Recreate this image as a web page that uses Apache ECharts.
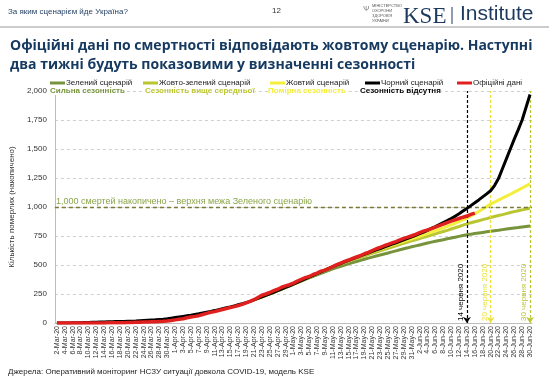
<!DOCTYPE html>
<html><head><meta charset="utf-8">
<script src="https://cdn.jsdelivr.net/npm/echarts@6/dist/echarts.min.js"></script>
<style>html,body{margin:0;padding:0;background:#fff;}#c{width:549px;height:380px;}</style>
</head><body><div id="c"></div>
<script>
const categories = [
'2-Mar-20','3-Mar-20','4-Mar-20','5-Mar-20','6-Mar-20','7-Mar-20','8-Mar-20','9-Mar-20','10-Mar-20','11-Mar-20',
'12-Mar-20','13-Mar-20','14-Mar-20','15-Mar-20','16-Mar-20','17-Mar-20','18-Mar-20','19-Mar-20','20-Mar-20','21-Mar-20',
'22-Mar-20','23-Mar-20','24-Mar-20','25-Mar-20','26-Mar-20','27-Mar-20','28-Mar-20','29-Mar-20','30-Mar-20','31-Mar-20',
'1-Apr-20','2-Apr-20','3-Apr-20','4-Apr-20','5-Apr-20','6-Apr-20','7-Apr-20','8-Apr-20','9-Apr-20','10-Apr-20',
'11-Apr-20','12-Apr-20','13-Apr-20','14-Apr-20','15-Apr-20','16-Apr-20','17-Apr-20','18-Apr-20','19-Apr-20','20-Apr-20',
'21-Apr-20','22-Apr-20','23-Apr-20','24-Apr-20','25-Apr-20','26-Apr-20','27-Apr-20','28-Apr-20','29-Apr-20','30-Apr-20',
'1-May-20','2-May-20','3-May-20','4-May-20','5-May-20','6-May-20','7-May-20','8-May-20','9-May-20','10-May-20',
'11-May-20','12-May-20','13-May-20','14-May-20','15-May-20','16-May-20','17-May-20','18-May-20','19-May-20','20-May-20',
'21-May-20','22-May-20','23-May-20','24-May-20','25-May-20','26-May-20','27-May-20','28-May-20','29-May-20','30-May-20',
'31-May-20','1-Jun-20','2-Jun-20','3-Jun-20','4-Jun-20','5-Jun-20','6-Jun-20','7-Jun-20','8-Jun-20','9-Jun-20',
'10-Jun-20','11-Jun-20','12-Jun-20','13-Jun-20','14-Jun-20','15-Jun-20','16-Jun-20','17-Jun-20','18-Jun-20','19-Jun-20',
'20-Jun-20','21-Jun-20','22-Jun-20','23-Jun-20','24-Jun-20','25-Jun-20','26-Jun-20','27-Jun-20','28-Jun-20','29-Jun-20',
'30-Jun-20'];

const yTicks = [0, 250, 500, 750, 1000, 1250, 1500, 1750, 2000];

// Official data (from 2-Mar-20)
const official = [
0,0,0,0,0,0,0,0,0,0,
0,1,1,2,2,3,3,3,5,5,
6,7,8,9,10,11,13,15,18,22,
27,32,37,45,52,57,63,73,83,93,
98,108,116,125,133,141,151,161,174,187,
201,220,239,250,263,279,291,308,320,330,
344,361,376,391,401,418,430,447,456,470,
486,503,517,531,543,557,569,581,597,609,
625,640,652,666,678,690,702,716,730,741,
752,764,779,792,802,814,827,840,852,866,
878,889,901,912,922,936,948];

// Black scenario (from 2-Mar-20)
const black = [
0,0,1,1,2,2,3,4,5,6,
7,8,9,10,11,12,13,14,15,16,
17,19,21,23,25,27,30,33,37,42,
47,52,57,62,67,73,79,86,93,100,
107,115,123,131,139,148,157,166,176,186,
200,212,225,238,251,265,279,293,307,321,
335,350,365,380,395,410,425,440,455,470,
485,499,513,527,540,553,566,579,592,605,
618,630,642,655,667,680,692,704,717,729,
742,756,770,784,799,815,831,848,865,882,
900,921,942,965,988,1012,1036,1061,1087,1113,
1140,1185,1245,1330,1415,1500,1585,1665,1750,1860,1970];

// Scenario series start on 21-Apr-20 (index 50)
const scenarioStart = 50;
const yellow = [
200,212,225,238,251,265,279,293,307,321,
335,350,365,380,395,410,425,440,455,470,
485,499,513,527,540,553,566,579,592,604,
616,627,638,649,660,671,682,693,704,715,
726,737,748,759,771,783,795,808,820,833,
846,860,874,889,905,923,942,962,983,1004,
1025,1042,1059,1076,1093,1110,1128,1146,1164,1182,1200];
const yellowGreen = [
200,212,225,238,251,265,279,293,307,321,
335,350,365,380,395,410,425,440,455,470,
485,497,509,521,533,545,556,567,578,589,
600,611,622,633,644,655,666,677,688,698,
708,718,728,738,748,758,768,779,789,799,
810,821,832,844,855,864,873,882,891,900,
910,918,926,934,943,952,960,968,975,982,989];
const green = [
200,212,225,238,251,265,279,293,307,321,
335,349,362,376,389,402,415,428,441,454,
466,477,488,499,510,520,530,540,550,559,
568,577,586,595,604,613,622,631,640,648,
657,665,673,681,689,697,704,711,718,726,
733,740,747,754,760,766,771,776,781,786,
791,796,800,805,810,815,819,823,828,832,836];

const seriesNames = ['Зелений сценарій','Жовто-зелений сценарій','Жовтий сценарій','Чорний сценарій','Офіційні дані'];
const colors = ['#77933C','#BAC532','#F4EE3C','#000000','#E0201F'];
const markerDates = ['14-Jun-20','20-Jun-20','30-Jun-20'];
const markerLabels = ['14 червня 2020','20 червня 2020','30 червня 2020'];
const markerColors = ['#000000','#EAE23A','#BAC532'];
const seasonLabels = ['Сильна сезонність','Сезонність вище середньої','Помірна сезонність','Сезонність відсутня'];
const thresholdValue = 1000;
const thresholdLabel = '1,000 смертей накопичено – верхня межа Зеленого сценарію';

const pad = a => new Array(scenarioStart).fill(null).concat(a);
const chart = echarts.init(document.getElementById('c'));
const F = 'Liberation Sans, Arial, sans-serif';
const legendLefts = [45, 138, 265, 360, 452];

const option = {
  animation: false,
  textStyle: {fontFamily: F},
  grid: {left: 48, right: 17, top: 91, bottom: 57},
  legend: seriesNames.map((n, i) => ({
    data: [n], left: legendLefts[i], top: 74, icon: 'rect', itemWidth: 15, itemHeight: 3, itemGap: 0,
    textStyle: {fontSize: 8, color: '#222', fontFamily: F, padding: [0, 0, 0, -4]}
  })),
  xAxis: {
    type: 'category', data: categories, boundaryGap: true,
    axisLine: {lineStyle: {color: '#bdbdbd'}}, axisTick: {show: false},
    axisLabel: {interval: 1, rotate: 90, fontSize: 7, color: '#333', margin: 3, fontFamily: F}
  },
  yAxis: {
    type: 'value', min: yTicks[0], max: yTicks[yTicks.length - 1], interval: 250,
    name: 'Кількість померлих (накопичено)', nameLocation: 'middle', nameGap: 27,
    nameTextStyle: {fontSize: 8, color: '#333', fontFamily: F},
    axisLine: {show: true, lineStyle: {color: '#bdbdbd'}}, axisTick: {show: false},
    axisLabel: {fontSize: 8, color: '#333', margin: 8, formatter: v => v.toLocaleString('en-US')},
    splitLine: {lineStyle: {color: '#cfcfcf', type: [3, 3]}}
  },
  series: [
    {name: seriesNames[0], type: 'line', data: pad(green), showSymbol: false, lineStyle: {width: 3, color: colors[0]}, itemStyle: {color: colors[0]}, z: 2},
    {name: seriesNames[1], type: 'line', data: pad(yellowGreen), showSymbol: false, lineStyle: {width: 3, color: colors[1]}, itemStyle: {color: colors[1]}, z: 3},
    {name: seriesNames[2], type: 'line', data: pad(yellow), showSymbol: false, lineStyle: {width: 3, color: colors[2]}, itemStyle: {color: colors[2]}, z: 4},
    {name: seriesNames[3], type: 'line', data: black, showSymbol: false, lineStyle: {width: 3, color: colors[3]}, itemStyle: {color: colors[3]}, z: 5,
      markLine: {
        silent: true, symbol: ['none', 'none'],
        data: [{
          yAxis: thresholdValue,
          lineStyle: {color: '#7a7a3a', type: [4, 3], width: 1.3},
          label: {show: true, position: 'insideStartTop', formatter: thresholdLabel, color: '#8AA54A', fontSize: 9, distance: 1, padding: 0}
        }]
      }},
    {name: seriesNames[4], type: 'line', data: official, showSymbol: false, lineStyle: {width: 3.5, color: colors[4]}, itemStyle: {color: colors[4]}, z: 6,
      markLine: {
        silent: true, symbol: ['arrow', 'none'], symbolSize: 6,
        data: markerDates.map((d, i) => [
          {coord: [d, 0], itemStyle: {color: markerColors[i]}, lineStyle: {color: markerColors[i], type: [3, 2], width: 1.2},
            label: {show: true, position: 'insideStartTop', formatter: markerLabels[i], color: markerColors[i], fontSize: 8, distance: 2, padding: 0}},
          {coord: [d, yTicks[yTicks.length - 1]]}
        ])
      }}
  ],
  graphic: [
    {type: 'text', left: 8, top: 8, style: {text: 'За яким сценарієм йде Україна?', fontSize: 8, fill: '#1d3a5e', fontFamily: F}},
    {type: 'text', left: 272, top: 7, style: {text: '12', fontSize: 8, fill: '#333', fontFamily: F}},
    {type: 'line', shape: {x1: 0, y1: 27, x2: 549, y2: 27}, style: {stroke: '#9a9a9a', lineWidth: 1}},
    {type: 'text', left: 372, top: 3, style: {text: 'МІНІСТЕРСТВО\nОХОРОНИ\nЗДОРОВ\'Я\nУКРАЇНИ', fontSize: 4, lineHeight: 5, fill: '#555', fontFamily: F}},
    {type: 'text', left: 363, top: 5, style: {text: 'Ѱ', fontSize: 8, fill: '#8a8a8a', fontFamily: F}},
    {type: 'text', left: 403, top: 5, style: {text: 'KSE', fontSize: 23, fill: '#1d3a5e', fontFamily: 'Liberation Serif, serif'}},
    {type: 'line', shape: {x1: 452, y1: 7, x2: 452, y2: 24}, style: {stroke: '#1d3a5e', lineWidth: 1}},
    {type: 'text', left: 460, top: 4, style: {text: 'Institute', fontSize: 21, fill: '#1d3a5e', fontFamily: F}},
    {type: 'text', left: 10, top: 37, style: {text: 'Офіційні дані по смертності відповідають жовтому сценарію. Наступні\nдва тижні будуть показовими у визначенні сезонності', fontSize: 14, lineHeight: 19, fontWeight: 'bold', fill: '#173a60', fontFamily: 'Open Sans, sans-serif'}},
    {type: 'text', left: 50, top: 87, z: 10, style: {text: seasonLabels[0], fontSize: 8, fontWeight: 'bold', fill: '#77933C', backgroundColor: '#fff', fontFamily: F}},
    {type: 'text', left: 145, top: 87, z: 10, style: {text: seasonLabels[1], fontSize: 8, fontWeight: 'bold', fill: '#BAC532', backgroundColor: '#fff', fontFamily: F}},
    {type: 'text', left: 268, top: 87, z: 10, style: {text: seasonLabels[2], fontSize: 8, fontWeight: 'bold', fill: '#F4EE3C', backgroundColor: '#fff', fontFamily: F}},
    {type: 'text', left: 360, top: 87, z: 10, style: {text: seasonLabels[3], fontSize: 8, fontWeight: 'bold', fill: '#000', backgroundColor: '#fff', fontFamily: F}},
    {type: 'text', left: 8, top: 368, style: {text: 'Джерела: Оперативний моніторинг НСЗУ ситуації довкола COVID-19, модель KSE', fontSize: 8, fill: '#222', fontFamily: F}}
  ]
};
chart.setOption(option);
</script></body></html>
